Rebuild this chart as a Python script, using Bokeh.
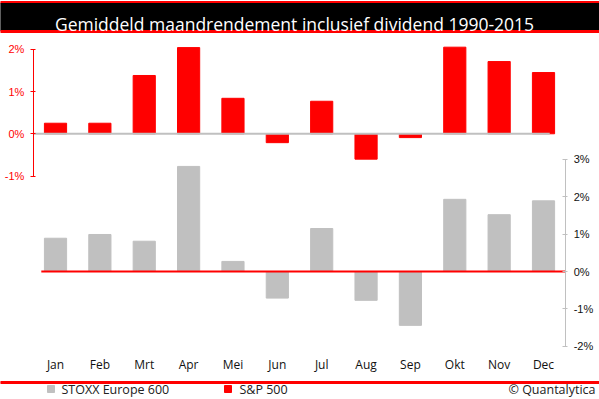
import numpy as np
from bokeh.plotting import figure
from bokeh.models import Range1d, LinearAxis, FixedTicker, PrintfTickFormatter
from bokeh.core.properties import value
from bokeh.embed import file_html
from bokeh.resources import INLINE

# ---- data (monthly average return incl. dividend, %) ----
months = ["Jan", "Feb", "Mrt", "Apr", "Mei", "Jun", "Jul", "Aug", "Sep", "Okt", "Nov", "Dec"]
sp500 = [0.25, 0.25, 1.38, 2.04, 0.84, -0.21, 0.77, -0.60, -0.09, 2.05, 1.71, 1.45]
stoxx600 = [0.89, 0.99, 0.81, 2.81, 0.27, -0.71, 1.15, -0.77, -1.44, 1.93, 1.52, 1.89]
left_ticks = [-1, 0, 1, 2]
right_ticks = [-2, -1, 0, 1, 2, 3]
title_text = "Gemiddeld maandrendement inclusief dividend 1990-2015"
legend_labels = ["STOXX Europe 600", "S&P 500"]
credit_text = "\u00a9 Quantalytica"

RED = "#FF0000"
GRAY = "#C0C0C0"
W, H = 599, 399
FONT = "Open Sans"

xpos = np.arange(len(months)) + 0.5          # category centres
n = len(months)

p = figure(width=W, height=H, x_range=Range1d(-0.7398, 12.762),
           y_range=Range1d(-6.289, 3.155),
           output_backend="svg", toolbar_location=None, min_border=0,
           x_axis_type=None, y_axis_type=None)
p.extra_y_ranges = {"right": Range1d(-3.422, 7.246), "py": Range1d(H, 0)}
p.extra_x_ranges = {"px": Range1d(0, W)}
p.outline_line_color = None
p.grid.visible = False
p.background_fill_color = "white"
p.border_fill_color = "white"

# ---- title band ----
p.quad(left=0, right=W, top=1, bottom=3, color=RED, x_range_name="px", y_range_name="py")
p.quad(left=0, right=W, top=3, bottom=30, color="black", x_range_name="px", y_range_name="py")
p.quad(left=0, right=W, top=30, bottom=32, color=RED, x_range_name="px", y_range_name="py")
p.text(x=[294], y=[23], text=[title_text], text_color="white",
       text_font=value(FONT), text_font_size="17.5px",
       text_align="center", text_baseline="alphabetic",
       x_range_name="px", y_range_name="py")

# ---- bars ----
p.vbar(x=xpos, top=sp500, width=0.5, color=RED)
p.vbar(x=xpos, top=stoxx600, width=0.5, color=GRAY, y_range_name="right")

# zero lines
p.segment(x0=[0], y0=[0], x1=[n - 0.36], y1=[0], line_color=GRAY, line_width=2)
p.segment(x0=[0.18], y0=[0], x1=[n], y1=[0], line_color=RED, line_width=2,
          y_range_name="right")

# left (S&P 500) axis
ly = LinearAxis(ticker=FixedTicker(ticks=left_ticks),
                formatter=PrintfTickFormatter(format="%d%%"),
                bounds=(min(left_ticks), max(left_ticks)), fixed_location=0)
ly.axis_line_color = RED
ly.major_tick_line_color = RED
ly.minor_tick_line_color = None
ly.major_tick_in = 2
ly.major_tick_out = 3
ly.major_label_text_color = RED
ly.major_label_text_font = "Liberation Sans"
ly.major_label_text_font_size = "11px"
ly.major_label_standoff = 6
p.add_layout(ly, "left")

# right (STOXX) axis
ry = LinearAxis(y_range_name="right", ticker=FixedTicker(ticks=right_ticks),
                formatter=PrintfTickFormatter(format="%d%%"),
                bounds=(min(right_ticks), max(right_ticks)), fixed_location=n)
ry.axis_line_color = GRAY
ry.major_tick_line_color = GRAY
ry.minor_tick_line_color = None
ry.major_tick_in = 3
ry.major_tick_out = 2
ry.major_label_text_color = "#111111"
ry.major_label_text_font = "Liberation Sans"
ry.major_label_text_font_size = "11px"
ry.major_label_standoff = 6
p.add_layout(ry, "right")

# month axis
xa = LinearAxis(ticker=FixedTicker(ticks=list(xpos)), fixed_location=-5.129,
                major_label_overrides={float(x): m for x, m in zip(xpos, months)})
xa.axis_line_color = None
xa.major_tick_line_color = None
xa.minor_tick_line_color = None
xa.major_tick_out = 0
xa.major_tick_in = 0
xa.major_label_text_font = FONT
xa.major_label_text_font_size = "12px"
xa.major_label_text_color = "#111111"
xa.major_label_standoff = 6
p.add_layout(xa, "below")

# ---- footer ----
p.quad(left=0, right=W, top=381, bottom=383, color=RED, x_range_name="px", y_range_name="py")
p.quad(left=[47, 224], right=[54, 231], top=[385, 385], bottom=[392, 392],
       color=[GRAY, RED], x_range_name="px", y_range_name="py")
p.text(x=[61], y=[388.5], text=[legend_labels[0]], text_color="#222222",
       text_font=value(FONT), text_font_size="12.5px",
       text_align="left", text_baseline="middle",
       x_range_name="px", y_range_name="py")
p.text(x=[239], y=[388.5], text=[legend_labels[1]], text_color="#222222",
       text_font=value(FONT), text_font_size="12.5px",
       text_align="left", text_baseline="middle",
       x_range_name="px", y_range_name="py")
p.text(x=[595], y=[388.5], text=[credit_text], text_color="#222222",
       text_font=value(FONT), text_font_size="12.5px",
       text_align="right", text_baseline="middle",
       x_range_name="px", y_range_name="py")

open("out.html", "w").write(file_html(p, INLINE))
